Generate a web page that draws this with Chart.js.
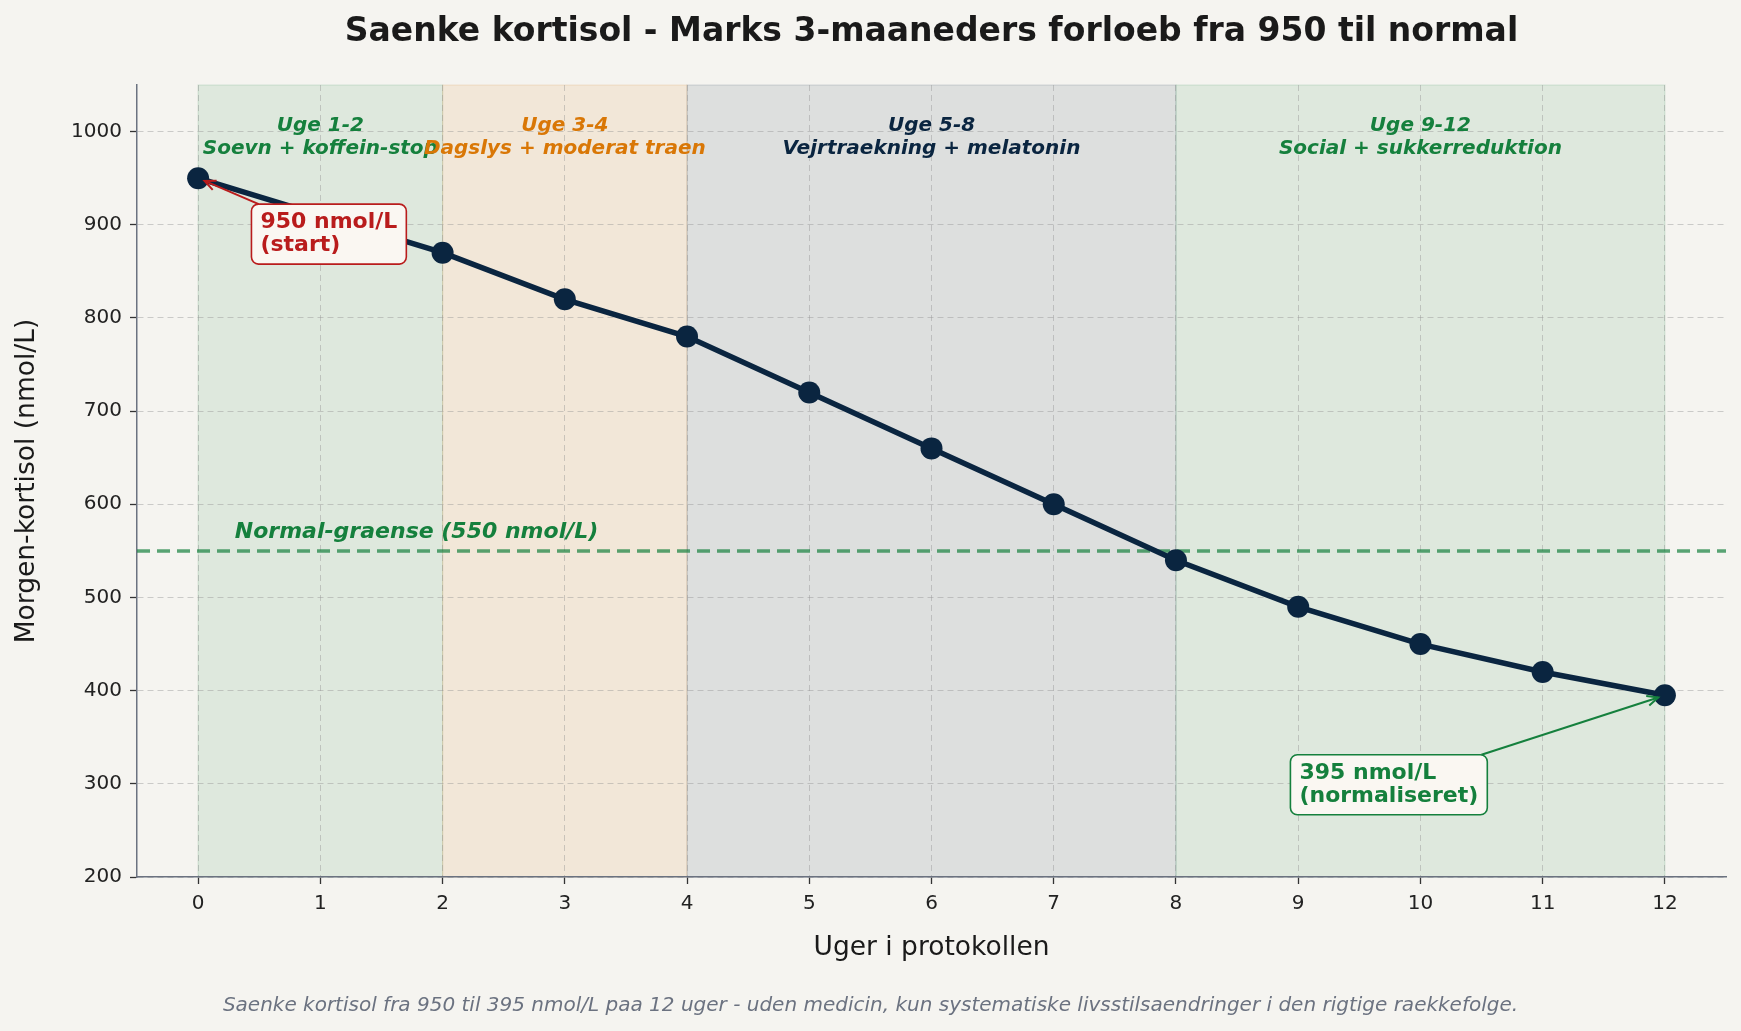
<!DOCTYPE html>
<html>
<head>
<meta charset="utf-8">
<script src="https://cdn.jsdelivr.net/npm/chart.js@4.4.1/dist/chart.umd.min.js"></script>
<style>
    body { margin: 0; background: #f5f4f0; }
    #wrap { width: 1741px; height: 1031px; }
</style>
</head>
<body>
<div id="wrap"><canvas id="kortisol-chart" width="1741" height="1031"></canvas></div>
<script>
// data
const weeks = [0, 1, 2, 3, 4, 5, 6, 7, 8, 9, 10, 11, 12];
const cortisol = [950, 910, 870, 820, 780, 720, 660, 600, 540, 490, 450, 420, 395];
const normalLimit = 550;
const yTicks = [200, 300, 400, 500, 600, 700, 800, 900, 1000];

const phaseStarts = [0, 2, 4, 8];
const phaseEnds = [2, 4, 8, 12];
const phaseTitles = ['Uge 1-2', 'Uge 3-4', 'Uge 5-8', 'Uge 9-12'];
const phaseTexts = ['Soevn + koffein-stop', 'Dagslys + moderat traen', 'Vejrtraekning + melatonin', 'Social + sukkerreduktion'];
const phaseColors = ['#15803d', '#d97706', '#0a2540', '#15803d'];

const FONT = '"DejaVu Sans", sans-serif';
const NAVY = '#0a2540';
const RED = '#b91c1c';
const GREEN = '#15803d';

function drawCallout(ctx, lines, color, tx, ty, px, py) {
    ctx.save();
    ctx.font = 'bold 22px ' + FONT;
    const lh = 23;
    const padX = 9, padY = 7;
    let w = 0;
    lines.forEach(l => { w = Math.max(w, ctx.measureText(l).width); });
    const bx = tx - padX, by = ty - lines.length * lh / 2 - padY;
    const bw = w + 2 * padX, bh = lines.length * lh + 2 * padY;
    // arrow from box centre, clipped at the box edge
    const cx = bx + bw / 2, cy = by + bh / 2;
    const dx = px - cx, dy = py - cy;
    const t = Math.min((bw / 2) / Math.abs(dx), (bh / 2) / Math.abs(dy));
    const sx = cx + dx * t, sy = cy + dy * t;
    const len = Math.hypot(px - sx, py - sy);
    const ux = (px - sx) / len, uy = (py - sy) / len;
    const ex = px - ux * 7, ey = py - uy * 7;
    ctx.strokeStyle = color;
    ctx.lineWidth = 2;
    ctx.beginPath();
    ctx.moveTo(sx, sy);
    ctx.lineTo(ex, ey);
    ctx.stroke();
    const hl = 11, hw = 5;
    ctx.beginPath();
    ctx.moveTo(ex - ux * hl - uy * hw, ey - uy * hl + ux * hw);
    ctx.lineTo(ex, ey);
    ctx.lineTo(ex - ux * hl + uy * hw, ey - uy * hl - ux * hw);
    ctx.stroke();
    // box
    ctx.fillStyle = '#faf7f2';
    ctx.lineWidth = 1.6;
    ctx.beginPath();
    ctx.roundRect(bx, by, bw, bh, 7);
    ctx.fill();
    ctx.stroke();
    ctx.fillStyle = color;
    ctx.textAlign = 'left';
    ctx.textBaseline = 'middle';
    lines.forEach((l, i) => {
        ctx.fillText(l, tx, ty - (lines.length - 1) * lh / 2 + i * lh);
    });
    ctx.restore();
}

const decorPlugin = {
    id: 'decor',
    beforeDraw(chart) {
        const {ctx, chartArea: a, scales: {x}} = chart;
        ctx.save();
        ctx.fillStyle = '#f5f4f0';
        ctx.fillRect(0, 0, chart.width, chart.height);
        phaseStarts.forEach((s, i) => {
            const x0 = x.getPixelForValue(s);
            const x1 = x.getPixelForValue(phaseEnds[i]);
            ctx.globalAlpha = 0.1;
            ctx.fillStyle = phaseColors[i];
            ctx.fillRect(x0, a.top, x1 - x0, a.bottom - a.top);
            ctx.globalAlpha = 0.12;
            ctx.strokeStyle = phaseColors[i];
            ctx.lineWidth = 1.2;
            ctx.strokeRect(x0, a.top, x1 - x0, a.bottom - a.top);
        });
        ctx.restore();
    },
    afterDraw(chart) {
        const {ctx, chartArea: a, scales: {x, y}} = chart;
        const midX = (a.left + a.right) / 2;
        ctx.save();
        ctx.textAlign = 'center';
        ctx.textBaseline = 'middle';

        // phase labels
        ctx.font = 'italic bold 20px ' + FONT;
        phaseStarts.forEach((s, i) => {
            const cx = x.getPixelForValue((s + phaseEnds[i]) / 2);
            ctx.fillStyle = phaseColors[i];
            ctx.fillText(phaseTitles[i], cx, y.getPixelForValue(1006.5));
            ctx.fillText(phaseTexts[i], cx, y.getPixelForValue(982));
        });

        // normal limit label
        ctx.textAlign = 'left';
        ctx.font = 'italic bold 22px ' + FONT;
        ctx.fillStyle = GREEN;
        ctx.fillText('Normal-graense (550 nmol/L)', x.getPixelForValue(0.3), y.getPixelForValue(570));

        // title and axis titles
        ctx.textAlign = 'center';
        ctx.fillStyle = '#1a1a1a';
        ctx.font = 'bold 33px ' + FONT;
        ctx.fillText('Saenke kortisol - Marks 3-maaneders forloeb fra 950 til normal', midX, 32);
        ctx.font = '26.5px ' + FONT;
        ctx.fillText('Uger i protokollen', midX, 948);
        ctx.save();
        ctx.translate(27, (a.top + a.bottom) / 2);
        ctx.rotate(-Math.PI / 2);
        ctx.fillText('Morgen-kortisol (nmol/L)', 0, 0);
        ctx.restore();

        // footer
        ctx.font = 'italic 20px ' + FONT;
        ctx.fillStyle = '#6b7280';
        ctx.fillText('Saenke kortisol fra 950 til 395 nmol/L paa 12 uger - uden medicin, kun systematiske livsstilsaendringer i den rigtige raekkefolge.', chart.width / 2, 1006);
        ctx.restore();

        // callouts
        drawCallout(ctx, ['950 nmol/L', '(start)'], RED,
            x.getPixelForValue(0.51), y.getPixelForValue(890),
            x.getPixelForValue(weeks[0]), y.getPixelForValue(cortisol[0]));
        const last = weeks.length - 1;
        drawCallout(ctx, ['395 nmol/L', '(normaliseret)'], GREEN,
            x.getPixelForValue(9.01), y.getPixelForValue(299),
            x.getPixelForValue(weeks[last]), y.getPixelForValue(cortisol[last]));
    }
};

const gridStyle = {
    color: 'rgba(150,150,150,0.45)',
    lineWidth: 1,
    tickColor: '#333',
    tickBorderDash: [],
    tickWidth: 1.3,
    tickLength: 7
};
const borderStyle = {color: '#6b7280', width: 1.5, dash: [6, 4]};

const ctx = document.getElementById('kortisol-chart');
new Chart(ctx, {
    type: 'line',
    data: {
        datasets: [{
            label: 'Morgen-kortisol',
            data: weeks.map((w, i) => ({x: w, y: cortisol[i]})),
            borderColor: NAVY,
            backgroundColor: NAVY,
            borderWidth: 5.5,
            pointRadius: 11,
            pointBorderWidth: 0,
            pointBackgroundColor: NAVY,
            tension: 0
        }, {
            label: 'Normal-graense',
            data: [{x: -0.5, y: normalLimit}, {x: 12.5, y: normalLimit}],
            borderColor: 'rgba(21,128,61,0.7)',
            borderWidth: 3.5,
            borderDash: [13, 7],
            pointRadius: 0
        }]
    },
    options: {
        responsive: false,
        devicePixelRatio: 1,
        animation: false,
        layout: {padding: {top: 85, right: 15, left: 0, bottom: 0}},
        plugins: {
            legend: {display: false},
            tooltip: {enabled: false}
        },
        scales: {
            x: {
                type: 'linear',
                min: -0.5,
                max: 12.5,
                afterBuildTicks: s => { s.ticks = weeks.map(w => ({value: w})); },
                afterFit: s => { s.height = 154; },
                ticks: {color: '#222', font: {family: FONT, size: 20}, padding: 8, maxRotation: 0,
                    callback: v => String(v)},
                grid: gridStyle,
                border: borderStyle
            },
            y: {
                min: 200,
                max: 1050,
                afterBuildTicks: s => { s.ticks = yTicks.map(v => ({value: v})); },
                afterFit: s => { s.width = 137; },
                ticks: {color: '#222', font: {family: FONT, size: 20}, padding: 8,
                    callback: v => String(v)},
                grid: gridStyle,
                border: borderStyle
            }
        }
    },
    plugins: [decorPlugin]
});
</script>
</body>
</html>
